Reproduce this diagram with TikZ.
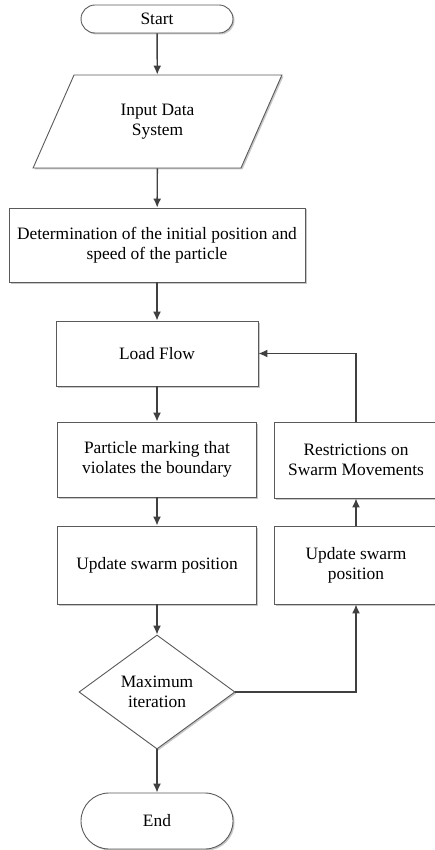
\documentclass[tikz,border=0pt]{standalone}
\usepackage{fontspec}
\setmainfont{Liberation Serif}
\usepackage{tikz}
\usetikzlibrary{shapes.geometric,shapes.misc,arrows.meta,shadows,positioning}
\definecolor{linegray}{HTML}{404040}
\definecolor{edgegray}{HTML}{5A5A5A}

\begin{document}
\begin{tikzpicture}[x=1pt,y=-1pt]
			\tikzstyle{Base}	= [draw=edgegray, line width=0.9pt, fill=white, align=center, inner sep=2pt,
						   font=\fontsize{17.4}{20}\selectfont,
						   drop shadow={shadow xshift=1.5pt, shadow yshift=-1.5pt, fill=black!22, opacity=1}]
			\tikzstyle{Term}	= [Base, rounded rectangle, minimum width=156pt]
			\tikzstyle{Box}		= [Base, rectangle]
			\tikzstyle{Data}	= [Base, trapezium, trapezium left angle=64, trapezium right angle=116,
						   trapezium stretches=true, minimum width=249pt, minimum height=93pt]
			\tikzstyle{Test}	= [Base, diamond, minimum width=156pt, minimum height=114pt, inner sep=0pt]
			\tikzstyle{Flow}	= [draw=linegray, line width=1.4pt, -{Latex[length=9pt,width=8pt]}]

			\useasboundingbox (0,0) rectangle (435,850);

			\node (start) at (157,19) [Term][minimum height=28pt] {Start};
			\node (input) at (157.5,121.5) [Data] {Input Data\\System};
			\node (init) at (157,245) [Box][minimum width=296pt, minimum height=74pt] {Determination of the initial position and\\speed of the particle};
			\node (flow) at (157,353.5) [Box][minimum width=202pt, minimum height=65pt] {Load Flow};
			\node (mark) at (157,459.5) [Box][minimum width=199pt, minimum height=75pt] {Particle marking that\\violates the boundary};
			\node (upd) at (157,565) [Box][minimum width=199pt, minimum height=78pt] {Update swarm position};
			\node (maxit) at (157,692) [Test] {Maximum\\iteration};
			\node (stop) at (157,821) [Term][minimum height=56pt] {End};
			\node (upd2) at (356,565) [Box][minimum width=164pt, minimum height=78pt] {Update swarm\\position};
			\node (restr) at (356,460) [Box][minimum width=164pt, minimum height=76pt] {Restrictions on\\Swarm Movements};

			\draw [Flow] (start) -- (input);
			\draw [Flow] (input) -- (init);
			\draw [Flow] (init) -- (flow);
			\draw [Flow] (flow) -- (mark);
			\draw [Flow] (mark) -- (upd);
			\draw [Flow] (upd) -- (maxit);
			\draw [Flow] (maxit) -- (stop);
			\draw [Flow] (maxit.east) -| (upd2.south);
			\draw [Flow] (upd2) -- (restr);
			\draw [Flow] (restr.north) |- (flow.east);
		\end{tikzpicture}
\end{document}
